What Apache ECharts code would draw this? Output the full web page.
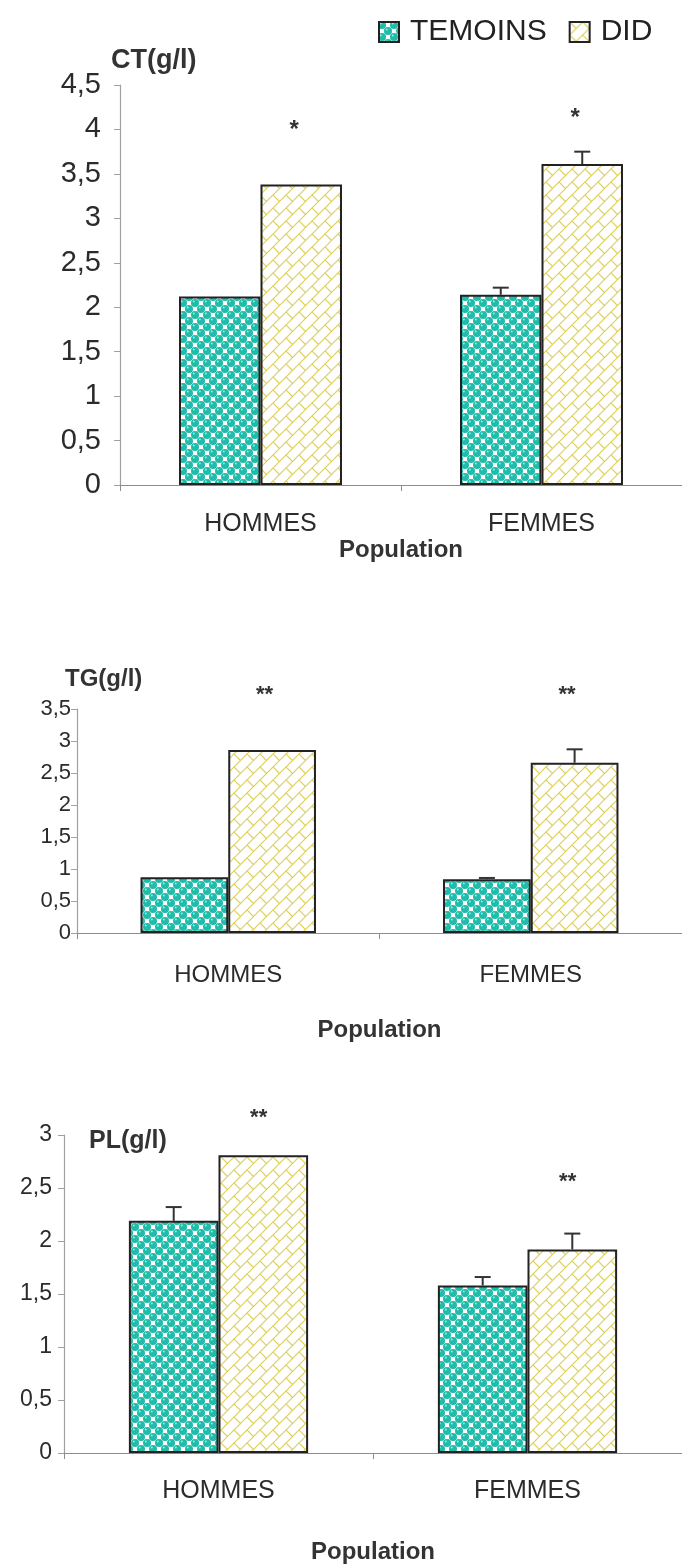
<!DOCTYPE html>
<html>
<head>
<meta charset="utf-8">
<title>CT TG PL - TEMOINS / DID</title>
<script src="https://cdn.jsdelivr.net/npm/echarts@6/dist/echarts.min.js"></script>
<style>
html, body { margin:0; padding:0; background:#fff; }
#main { width:682px; height:1566px; }
</style>
</head>
<body>
<div id="main"></div>
<script>
var categories = ['HOMMES', 'FEMMES'];
var seriesNames = ['TEMOINS', 'DID'];

// CT (g/l)
var ctTemoins = [2.12, 2.14];
var ctDid = [3.38, 3.61];
var ctErrTemoins = [0, 0.08];
var ctErrDid = [0, 0.14];
var ctStars = ['*', '*'];
var ctStarPos = [3.99, 4.13];

// TG (g/l)
var tgTemoins = [0.87, 0.84];
var tgDid = [2.86, 2.66];
var tgErrTemoins = [0, 0.02];
var tgErrDid = [0, 0.21];
var tgStars = ['**', '**'];
var tgStarPos = [3.72, 3.72];

// PL (g/l)
var plTemoins = [2.19, 1.58];
var plDid = [2.81, 1.92];
var plErrTemoins = [0.13, 0.08];
var plErrDid = [0, 0.15];
var plStars = ['**', '**'];
var plStarPos = [3.16, 2.56];

var FONT = '"Liberation Sans", Arial, sans-serif';

// teal balls on white checkerboard
function dotTile() {
    var s = 12;
    var c = document.createElement('canvas');
    c.width = s; c.height = s;
    var g = c.getContext('2d');
    g.fillStyle = '#fff';
    g.fillRect(0, 0, s, s);
    var pts = [[3, 3], [9, 9], [-3, -3], [15, 15], [9, -3], [-3, 9], [15, 3], [3, 15]];
    pts.forEach(function (p) {
        g.fillStyle = '#1fbcaa';
        g.beginPath(); g.arc(p[0], p[1], 4.0, 0, Math.PI * 2); g.fill();
        g.fillStyle = '#a8ede2';
        g.beginPath(); g.arc(p[0] - 1.2, p[1] - 1.5, 0.9, 0, Math.PI * 2); g.fill();
    });
    return c;
}

// yellow diagonal bricks
function brickTile() {
    var s = 13;
    var c = document.createElement('canvas');
    c.width = s; c.height = s;
    var g = c.getContext('2d');
    g.fillStyle = '#fff';
    g.fillRect(0, 0, s, s);
    g.strokeStyle = '#ddd05c';
    g.lineWidth = 1.2;
    for (var i = -1; i <= 1; i++) {
        for (var j = -1; j <= 1; j++) {
            var ox = i * s, oy = j * s;
            g.beginPath();
            g.moveTo(ox, oy + s); g.lineTo(ox + s, oy);
            g.moveTo(ox, oy); g.lineTo(ox + s / 2, oy + s / 2);
            g.stroke();
        }
    }
    return c;
}

var tealFill = {image: dotTile(), repeat: 'repeat'};
var yellowFill = {image: brickTile(), repeat: 'repeat'};

function barSeries(gi, name, values, fill) {
    return {
        type: 'bar', name: name, xAxisIndex: gi, yAxisIndex: gi,
        data: values,
        barGap: '0%', barCategoryGap: '42%',
        itemStyle: {color: fill, borderColor: '#222', borderWidth: 2},
        emphasis: {disabled: true}
    };
}

function errSeries(gi, values, errs, offset) {
    return {
        type: 'custom', xAxisIndex: gi, yAxisIndex: gi, z: 5,
        encode: {x: 0, y: 1},
        data: categories.map(function (c, i) { return [i, values[i], errs[i]]; }),
        renderItem: function (params, api) {
            var err = api.value(2);
            if (!err) return null;
            var band = api.size([1, 0])[0];
            var x = api.coord([api.value(0), 0])[0] + offset * band;
            var y0 = api.coord([api.value(0), api.value(1)])[1];
            var y1 = api.coord([api.value(0), api.value(1) + err])[1];
            var st = {stroke: '#333', lineWidth: 2};
            return {type: 'group', children: [
                {type: 'line', shape: {x1: x, y1: y0, x2: x, y2: y1}, style: st},
                {type: 'line', shape: {x1: x - 8, y1: y1, x2: x + 8, y2: y1}, style: st}
            ]};
        }
    };
}

function starSeries(gi, stars, pos, offset, size) {
    return {
        type: 'custom', xAxisIndex: gi, yAxisIndex: gi, z: 6, clip: false,
        encode: {x: 0, y: 1},
        data: categories.map(function (c, i) { return [i, pos[i]]; }),
        renderItem: function (params, api) {
            var band = api.size([1, 0])[0];
            var p = api.coord([api.value(0), api.value(1)]);
            return {type: 'text', x: p[0] + offset * band, y: p[1],
                style: {text: stars[params.dataIndex], fill: '#333', font: 'bold ' + size + 'px ' + FONT,
                    align: 'center', verticalAlign: 'middle'}};
        }
    };
}

function yAxisOpt(gi, max, fs, margin) {
    return {
        type: 'value', gridIndex: gi, min: 0, max: max, interval: 0.5,
        axisLine: {show: true, lineStyle: {color: '#a0a0a0', width: 1.2}},
        axisTick: {show: true, length: 6, lineStyle: {color: '#a0a0a0'}},
        splitLine: {show: false},
        axisLabel: {fontSize: fs, color: '#2b2b2b', margin: margin, fontFamily: FONT,
            formatter: function (v) { return String(+v.toFixed(1)).replace('.', ','); }}
    };
}

function xAxisOpt(gi, fs, margin, nameGap, nameFs) {
    return {
        type: 'category', gridIndex: gi, data: categories,
        axisLine: {lineStyle: {color: '#8c8c8c', width: 1.2}},
        axisTick: {show: true, length: 6, lineStyle: {color: '#8c8c8c'}},
        axisLabel: {fontSize: fs, color: '#2b2b2b', margin: margin, fontFamily: FONT},
        name: 'Population', nameLocation: 'middle', nameGap: nameGap,
        nameTextStyle: {fontSize: nameFs, fontWeight: 'bold', color: '#333', fontFamily: FONT}
    };
}

var chart = echarts.init(document.getElementById('main'), null, {renderer: 'canvas'});

var option = {
    animation: false,
    backgroundColor: '#fff',
    title: [
        {text: 'CT(g/l)', left: 106, top: 42, textStyle: {fontSize: 27, fontWeight: 'bold', color: '#333', fontFamily: FONT}},
        {text: 'TG(g/l)', left: 60, top: 662, textStyle: {fontSize: 24, fontWeight: 'bold', color: '#333', fontFamily: FONT}},
        {text: 'PL(g/l)', left: 84, top: 1124, textStyle: {fontSize: 25, fontWeight: 'bold', color: '#333', fontFamily: FONT}}
    ],
    legend: {
        data: seriesNames, left: 373, top: 12, icon: 'rect',
        itemWidth: 20, itemHeight: 20, itemGap: 22,
        textStyle: {fontSize: 30, color: '#222', fontFamily: FONT, padding: [0, 0, 0, 6]}
    },
    grid: [
        {left: 120, top: 85, width: 562, height: 400},
        {left: 77, top: 709, width: 612, height: 224},
        {left: 64, top: 1135, width: 630, height: 318}
    ],
    xAxis: [
        xAxisOpt(0, 25, 27, 52, 24),
        xAxisOpt(1, 24, 30, 85, 24),
        xAxisOpt(2, 25, 26, 87, 24)
    ],
    yAxis: [
        yAxisOpt(0, 4.5, 29, 19),
        yAxisOpt(1, 3.5, 22, 6),
        yAxisOpt(2, 3, 23, 12)
    ],
    series: [
        barSeries(0, 'TEMOINS', ctTemoins, tealFill),
        barSeries(0, 'DID', ctDid, yellowFill),
        errSeries(0, ctTemoins, ctErrTemoins, -0.145),
        errSeries(0, ctDid, ctErrDid, 0.145),
        starSeries(0, ctStars, ctStarPos, 0.12, 24),

        barSeries(1, 'TEMOINS', tgTemoins, tealFill),
        barSeries(1, 'DID', tgDid, yellowFill),
        errSeries(1, tgTemoins, tgErrTemoins, -0.145),
        errSeries(1, tgDid, tgErrDid, 0.145),
        starSeries(1, tgStars, tgStarPos, 0.12, 22),

        barSeries(2, 'TEMOINS', plTemoins, tealFill),
        barSeries(2, 'DID', plDid, yellowFill),
        errSeries(2, plTemoins, plErrTemoins, -0.145),
        errSeries(2, plDid, plErrDid, 0.145),
        starSeries(2, plStars, plStarPos, 0.13, 22)
    ]
};

chart.setOption(option);
</script>
</body>
</html>
